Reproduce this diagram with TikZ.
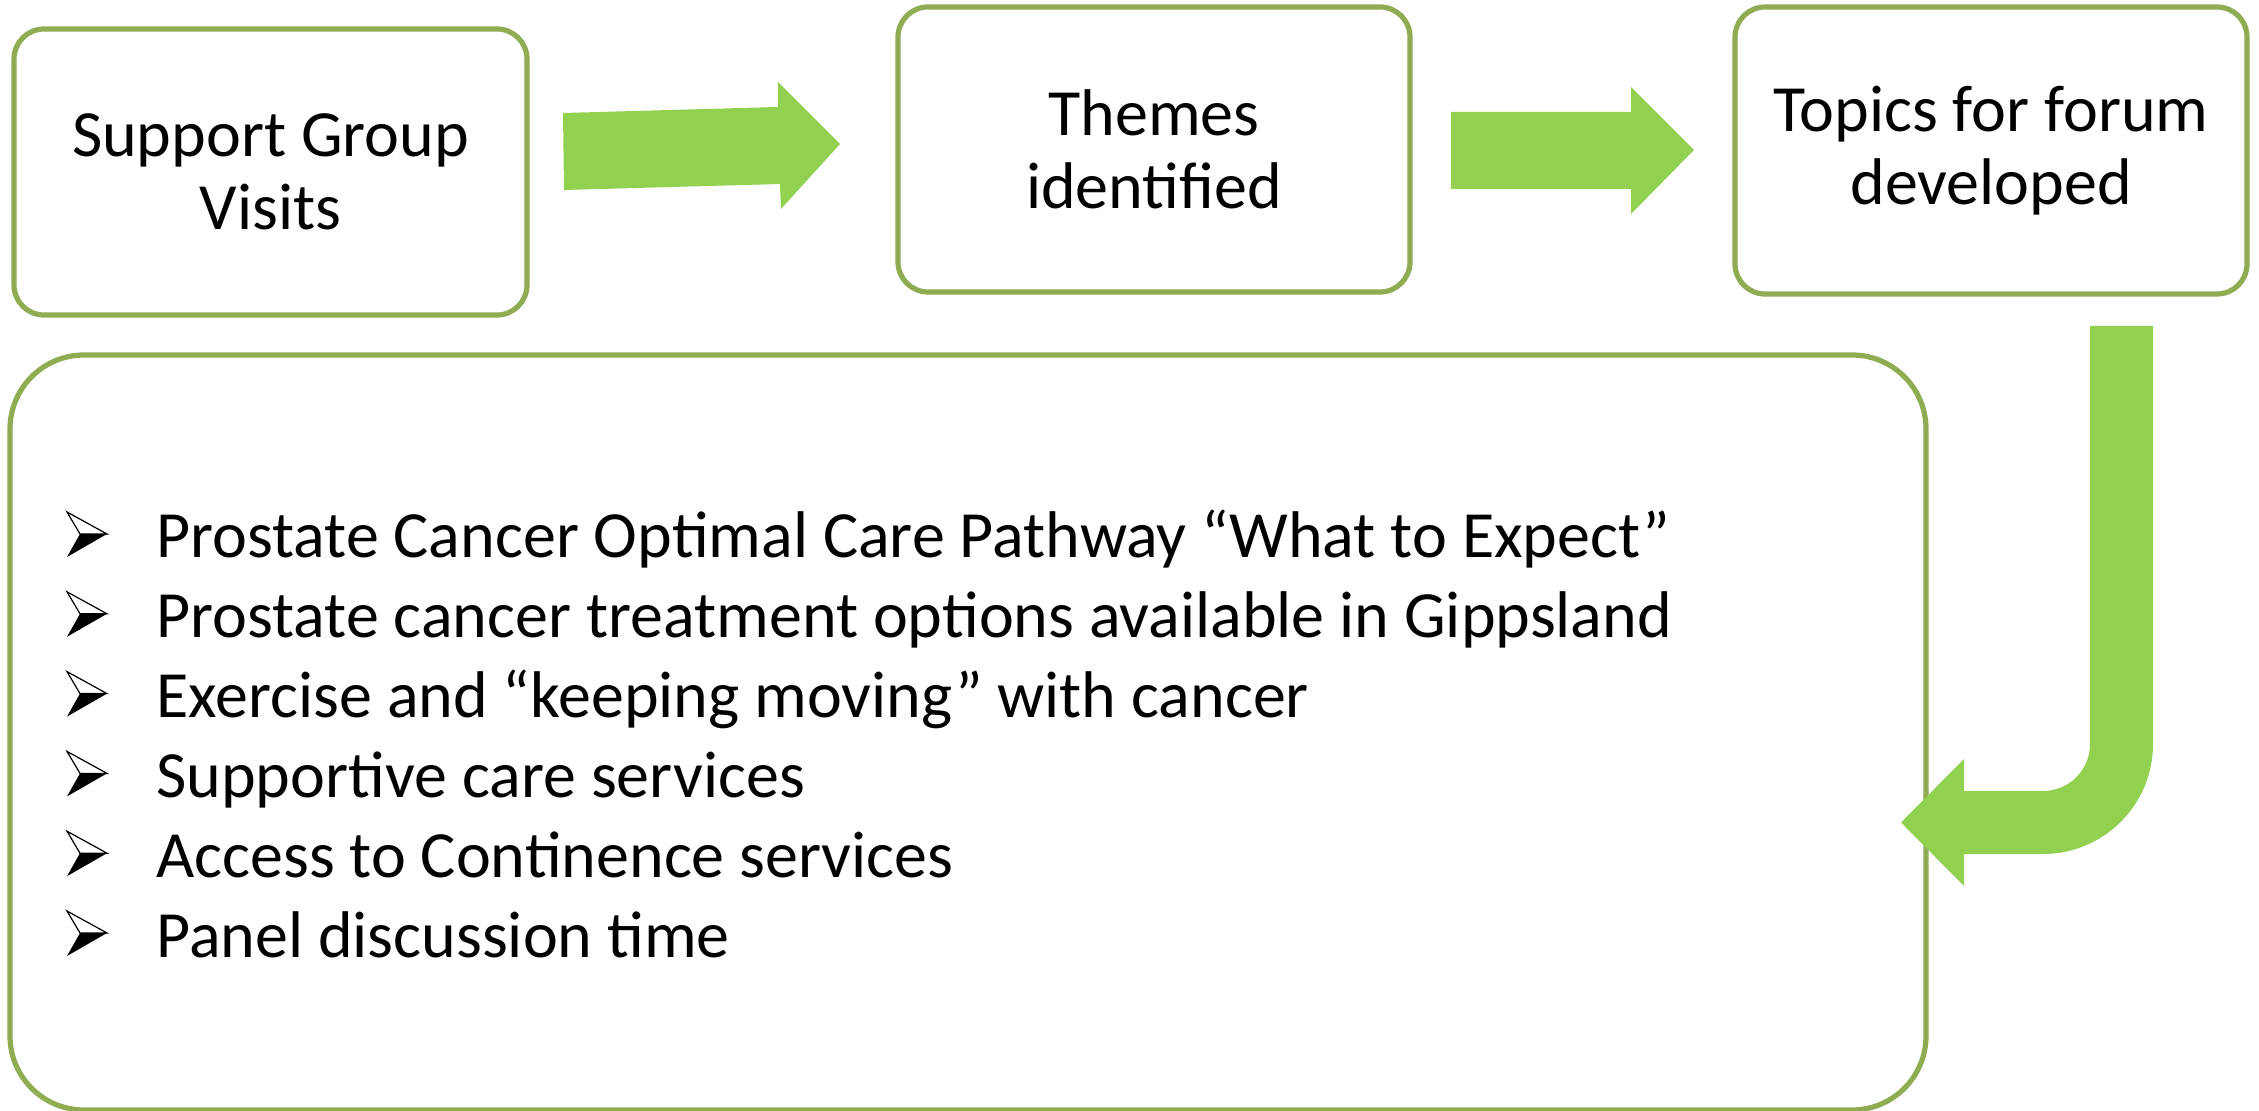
\documentclass[tikz,border=0pt]{standalone}
\usepackage{fontspec}
\setmainfont{Carlito}
\definecolor{boxgreen}{RGB}{143,172,82}
\definecolor{arrowgreen}{RGB}{146,208,80}
\tikzset{
  stepbox/.style={draw=boxgreen, line width=2.6pt, rounded corners=15pt, fill=white,
    align=center, inner sep=0pt, font=\fontsize{33}{36.5}\selectfont},
  listbox/.style={draw=boxgreen, line width=2.6pt, rounded corners=37pt, fill=white, inner sep=0pt},
  itemtext/.style={anchor=base west, inner sep=0pt, font=\fontsize{33}{36}\selectfont},
  blockarrow/.style={fill=arrowgreen, draw=none},
  arrbullet/.pic={
    \fill[black] (-7,0) -- (20,0) -- (-20,23) -- cycle;
    \draw[black, line width=0.6pt, fill=white, line join=miter] (-20,-22) -- (20,0) -- (-7,0) -- cycle;
  }
}
\begin{document}
\begin{tikzpicture}[x=0.5pt,y=-0.5pt]
\useasboundingbox (0,0) rectangle (2259,1111);
\fill[white] (0,0) rectangle (2259,1111);

% top boxes
\node[stepbox, minimum width=256.5pt, minimum height=143pt] (visits) at (270.5,172) {Support Group\\Visits};
\node[stepbox, minimum width=256pt, minimum height=142.5pt] (themes) at (1154,149.5) {Themes\\identified};
\node[stepbox, minimum width=256pt, minimum height=143.5pt] (topics) at (1991,150.5) {Topics for forum\\developed};

% big list box
\node[listbox, minimum width=958pt, minimum height=377.5pt] (list) at (968,732.5) {};

% block arrows
\fill[blockarrow] (563,113) -- (778,107) -- (778,82) -- (840,144) -- (781,209) -- (780,184) -- (564,190) -- cycle;
\fill[blockarrow] (1451,112) -- (1631,112) -- (1631,87) -- (1694,150) -- (1631,214) -- (1631,189) -- (1451,189) -- cycle;
\fill[blockarrow] (2090,326) -- (2090,744) arc[start angle=0, end angle=90, radius=47]
  -- (1964,791) -- (1964,759) -- (1901,822.5) -- (1964,886) -- (1964,854) -- (2043,854)
  arc[start angle=90, end angle=0, radius=110] -- (2153,326) -- cycle;

% list items
\foreach \t [count=\i from 0] in {%
  {Prostate Cancer Optimal Care Pathway “What to Expect”},
  {Prostate cancer treatment options available in Gippsland},
  {Exercise and “keeping moving” with cancer},
  {Supportive care services},
  {Access to Continence services},
  {Panel discussion time}} {
  \pic at (87,{534+79.8*\i}) {arrbullet};
  \node[itemtext] (item\i) at (156,{558+79.8*\i}) {\t};
}
\end{tikzpicture}
\end{document}
